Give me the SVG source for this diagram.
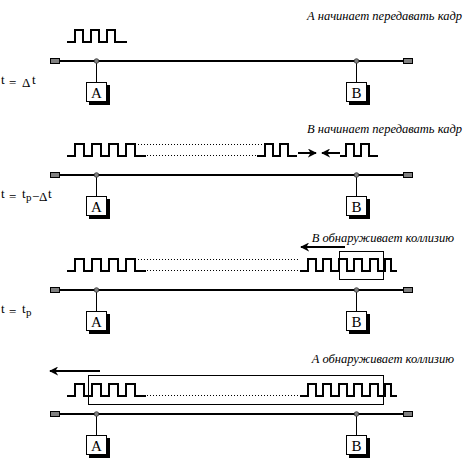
<svg xmlns="http://www.w3.org/2000/svg" width="470" height="461" viewBox="0 0 470 461">
<defs>
<style>
.bus{stroke:#000;stroke-width:2;fill:none}
.term{fill:#808080;stroke:#000;stroke-width:1}
.dot{fill:#808080;stroke:#333;stroke-width:0.8}
.stub{stroke:#000;stroke-width:1;fill:none}
.box{fill:#fff;stroke:#000;stroke-width:1}
.shadow{fill:#000}
.lbl{font-family:'Liberation Serif','DejaVu Serif',serif;font-size:15px;text-anchor:middle;fill:#000}
.wave{stroke:#000;stroke-width:2;fill:none;stroke-linejoin:miter;stroke-linecap:square}
.dots{stroke:#000;stroke-width:1;stroke-dasharray:1 2;fill:none}
.coll{stroke:#000;stroke-width:1;fill:none}
.arr{stroke:#000;stroke-width:2;fill:none}
.cap{font-family:'Liberation Serif','DejaVu Serif',serif;font-style:italic;font-size:12.5px;fill:#000;text-anchor:end}
.time{font-family:'Liberation Serif','DejaVu Serif',serif;font-size:13px;fill:#000}
.sub{font-size:11px}
</style>
<marker id="ah" viewBox="0 0 10 10" refX="9" refY="5" markerWidth="9" markerHeight="9" markerUnits="userSpaceOnUse" orient="auto">
<path d="M0,0 L10,5 L0,10 L3,5 Z" fill="#000"/>
</marker>
</defs>
<rect width="470" height="461" fill="#fff"/>

<!-- Captions -->
<text class="cap" x="462" y="20">А начинает передавать кадр</text>
<text class="cap" x="462" y="133">В начинает передавать кадр</text>
<text class="cap" x="454" y="242">В обнаруживает коллизию</text>
<text class="cap" x="454" y="363">А обнаруживает коллизию</text>

<!-- Time labels -->
<text class="time" y="87"><tspan x="1" dy="-3">t</tspan><tspan x="9" dy="3">=</tspan><tspan x="22">Δ</tspan><tspan x="32" dy="-3">t</tspan></text>
<text class="time" y="201"><tspan x="1" dy="-3">t</tspan><tspan x="9" dy="3">=</tspan><tspan x="22" dy="-3">t</tspan><tspan class="sub" x="26" dy="3">p</tspan><tspan x="32">−</tspan><tspan x="39">Δ</tspan><tspan x="48" dy="-3">t</tspan></text>
<text class="time" y="316"><tspan x="1" dy="-3">t</tspan><tspan x="9" dy="3">=</tspan><tspan x="22" dy="-3">t</tspan><tspan class="sub" x="26" dy="3">p</tspan></text>

<!-- Bus lines and terminators -->
<g id="bus1"><line class="bus" x1="59" y1="61" x2="404" y2="61"/><rect class="term" x="50.5" y="58.5" width="9" height="5"/><rect class="term" x="403.5" y="58.5" width="9" height="5"/></g>
<g id="bus2"><line class="bus" x1="59" y1="175" x2="404" y2="175"/><rect class="term" x="50.5" y="172.5" width="9" height="5"/><rect class="term" x="403.5" y="172.5" width="9" height="5"/></g>
<g id="bus3"><line class="bus" x1="59" y1="290" x2="404" y2="290"/><rect class="term" x="50.5" y="287.5" width="9" height="5"/><rect class="term" x="403.5" y="287.5" width="9" height="5"/></g>
<g id="bus4"><line class="bus" x1="59" y1="414" x2="404" y2="414"/><rect class="term" x="50.5" y="411.5" width="9" height="5"/><rect class="term" x="403.5" y="411.5" width="9" height="5"/></g>

<!-- Connectors -->
<g id="connectors">
<line class="stub" x1="96.5" y1="61" x2="96.5" y2="82"/>
<line class="stub" x1="356.5" y1="61" x2="356.5" y2="82"/>
<line class="stub" x1="96.5" y1="175" x2="96.5" y2="196"/>
<line class="stub" x1="356.5" y1="175" x2="356.5" y2="196"/>
<line class="stub" x1="96.5" y1="290" x2="96.5" y2="311"/>
<line class="stub" x1="356.5" y1="290" x2="356.5" y2="311"/>
<line class="stub" x1="96.5" y1="414" x2="96.5" y2="435"/>
<line class="stub" x1="356.5" y1="414" x2="356.5" y2="435"/>
<circle class="dot" cx="96.5" cy="61" r="2.3"/>
<circle class="dot" cx="356.5" cy="61" r="2.3"/>
<circle class="dot" cx="96.5" cy="175" r="2.3"/>
<circle class="dot" cx="356.5" cy="175" r="2.3"/>
<circle class="dot" cx="96.5" cy="290" r="2.3"/>
<circle class="dot" cx="356.5" cy="290" r="2.3"/>
<circle class="dot" cx="96.5" cy="414" r="2.3"/>
<circle class="dot" cx="356.5" cy="414" r="2.3"/>
<line class="arr" x1="298" y1="153" x2="316" y2="153" marker-end="url(#ah)"/>
<line class="arr" x1="340" y1="153" x2="322" y2="153" marker-end="url(#ah)"/>
<line class="arr" x1="345" y1="247" x2="301" y2="247" marker-end="url(#ah)"/>
<line class="arr" x1="100" y1="371" x2="50" y2="371" marker-end="url(#ah)"/>
</g>

<!-- Stations -->
<g id="A1"><rect class="shadow" x="89" y="85" width="21" height="20"/><rect class="box" x="86.5" y="82.5" width="20" height="19"/><text class="lbl" x="96.5" y="98">A</text></g>
<g id="B1"><rect class="shadow" x="349" y="85" width="21" height="20"/><rect class="box" x="346.5" y="82.5" width="20" height="19"/><text class="lbl" x="356.5" y="98">B</text></g>
<g id="A2"><rect class="shadow" x="89" y="199" width="21" height="20"/><rect class="box" x="86.5" y="196.5" width="20" height="19"/><text class="lbl" x="96.5" y="212">A</text></g>
<g id="B2"><rect class="shadow" x="349" y="199" width="21" height="20"/><rect class="box" x="346.5" y="196.5" width="20" height="19"/><text class="lbl" x="356.5" y="212">B</text></g>
<g id="A3"><rect class="shadow" x="89" y="314" width="21" height="20"/><rect class="box" x="86.5" y="311.5" width="20" height="19"/><text class="lbl" x="96.5" y="327">A</text></g>
<g id="B3"><rect class="shadow" x="349" y="314" width="21" height="20"/><rect class="box" x="346.5" y="311.5" width="20" height="19"/><text class="lbl" x="356.5" y="327">B</text></g>
<g id="A4"><rect class="shadow" x="89" y="438" width="21" height="20"/><rect class="box" x="86.5" y="435.5" width="20" height="19"/><text class="lbl" x="96.5" y="451">A</text></g>
<g id="B4"><rect class="shadow" x="349" y="438" width="21" height="20"/><rect class="box" x="346.5" y="435.5" width="20" height="19"/><text class="lbl" x="356.5" y="451">B</text></g>

<!-- Waveforms panel 1 -->
<g id="wave1">
<path class="wave" d="M68 42 H75 V30 H83 V42 H91 V30 H99 V42 H107 V30 H115 V42 H126"/>
</g>

<!-- Waveforms panel 2 -->
<g id="wave2">
<path class="wave" d="M68 156 H75 V144 H84 V156 H92 V144 H101 V156 H109 V144 H118 V156 H126 V144 H135 V156 H145"/>
<line class="dots" x1="138" y1="144.5" x2="263" y2="144.5"/>
<line class="dots" x1="147" y1="155.5" x2="256" y2="155.5"/>
<path class="wave" d="M258 156 H265 V144 H273 V156 H280 V144 H288 V156 H296"/>
<path class="wave" d="M341 156 H346 V144 H354 V156 H361 V144 H369 V156 H377"/>
</g>

<!-- Waveforms panel 3 -->
<g id="wave3">
<path class="wave" d="M68 271 H75 V259 H84 V271 H92 V259 H101 V271 H109 V259 H118 V271 H126 V259 H135 V271 H145"/>
<line class="dots" x1="138" y1="259.5" x2="300" y2="259.5"/>
<line class="dots" x1="147" y1="270.5" x2="300" y2="270.5"/>
<path class="wave" d="M301 271 H308 V259 H316 V271 H323 V259 H331 V271 H339 V259 H347 V271 H354 V259 H362 V271 H370 V259 H378 V271 H385 V259 H391 V271 H396"/>
<rect class="coll" x="339.5" y="251.5" width="44" height="28"/>
</g>

<!-- Waveforms panel 4 -->
<g id="wave4">
<path class="wave" d="M68 396 H75 V384 H84 V396 H92 V384 H101 V396 H109 V384 H118 V396 H126 V384 H135 V396 H145"/>
<line class="dots" x1="147" y1="395.5" x2="300" y2="395.5"/>
<path class="wave" d="M301 396 H308 V384 H316 V396 H323 V384 H331 V396 H339 V384 H347 V396 H354 V384 H362 V396 H370 V384 H378 V396 H385 V384 H391 V396 H396"/>
<rect class="coll" x="88.5" y="375.5" width="295" height="29"/>
</g>
</svg>
